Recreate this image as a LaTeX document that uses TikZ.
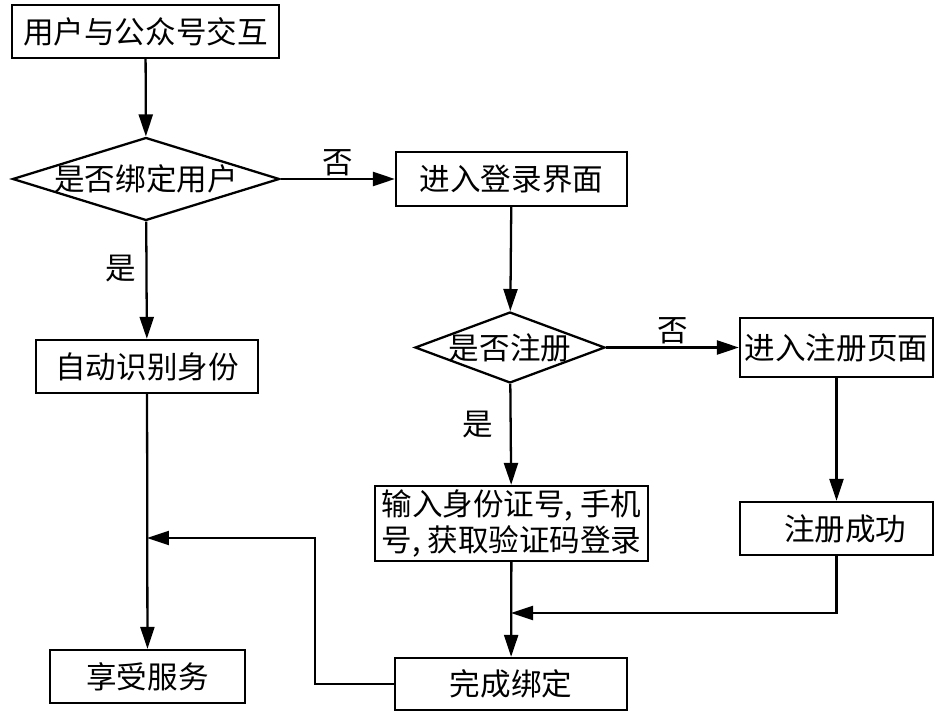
\documentclass[tikz,border=0pt]{standalone}
\usepackage{fontspec}
\setmainfont{Noto Sans CJK SC}
\usetikzlibrary{shapes.geometric,arrows.meta}

\begin{document}
\begin{tikzpicture}[x=0.02cm, y=-0.02cm,
        box/.style={draw, line width=1.3pt, rectangle, inner sep=0pt,
            font=\fontsize{17.4}{20}\selectfont},
        decision/.style={draw, line width=1.3pt, diamond, inner sep=0pt},
        flow/.style={line width=1.3pt, -{Triangle[length=0.44cm,width=0.28cm]}},
        lbl/.style={font=\fontsize{17.4}{20}\selectfont}]
        % Fix the page size
        \useasboundingbox (0,0) rectangle (946,713);
        % Draw the boxes
        \node[box, minimum width=5.34cm, minimum height=1.06cm] (start) at (145.5,31.5) {用户与公众号交互};
        \node[decision, minimum width=5.34cm, minimum height=1.66cm,
            label={[lbl]center:是否绑定用户}] (bound) at (146,179) {};
        \node[box, minimum width=4.62cm, minimum height=1.08cm] (login) at (511.5,179) {进入登录界面};
        \node[box, minimum width=4.44cm, minimum height=1.06cm] (auto) at (147,366.5) {自动识别身份};
        \node[decision, minimum width=3.8cm, minimum height=1.42cm,
            label={[lbl]center:是否注册}] (reg) at (510,347.5) {};
        \node[box, minimum width=3.86cm, minimum height=1.18cm] (regpage) at (836.5,347.5) {进入注册页面};
        \node[box, align=center, minimum width=5.46cm, minimum height=1.5cm] (input) at (511.5,523.5)
            {输入身份证号, 手机\\号, 获取验证码登录};
        \node[box, minimum width=3.86cm, minimum height=1.06cm] (succ) at (836.5,528.5) {\hspace{0.35cm}注册成功};
        \node[box, minimum width=4.64cm, minimum height=1.04cm] (done) at (511,684) {完成绑定};
        \node[box, minimum width=3.9cm, minimum height=1.06cm] (serve) at (147.5,676.5) {享受服务};
        % Join points
        \coordinate (m1) at (511,613);
        \coordinate (c1) at (315,538);
        \coordinate (m2) at (147,538);
        % Draw the arrows
        \draw[flow] (start) -- (bound);
        \draw[flow] (bound) -- node[lbl, midway, above, yshift=-2pt] {否} (login);
        \draw[flow] (bound) -- node[lbl, pos=0.4, left, xshift=-2pt] {是} (auto);
        \draw[flow] (login) -- (reg);
        \draw[flow] (reg) -- node[lbl, midway, above, yshift=-2pt] {否} (regpage);
        \draw[flow] (reg) -- node[lbl, pos=0.4, left, xshift=-6pt] {是} (input);
        \draw[flow] (regpage) -- (succ);
        \draw[flow] (input) -- (done);
        \draw[flow] (succ.south) |- (m1);
        \draw[flow] (auto) -- (serve);
        \draw[flow] (done.west) -| (c1) -- (m2);
    \end{tikzpicture}
\end{document}
